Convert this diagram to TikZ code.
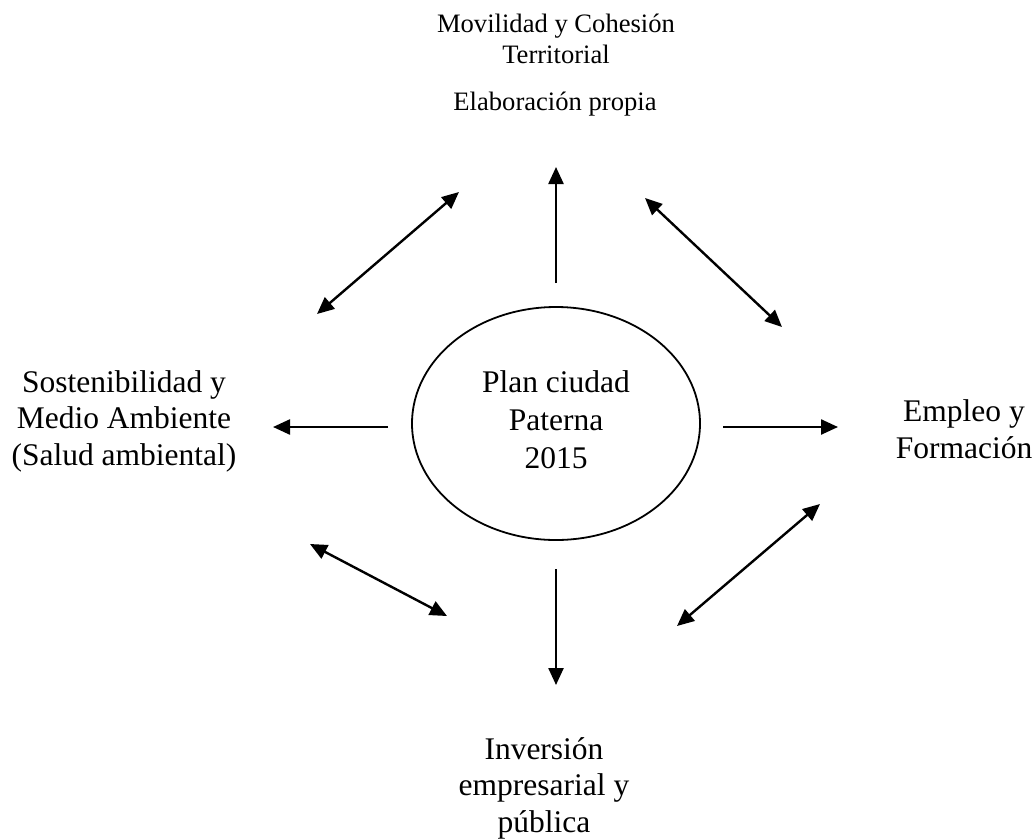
\documentclass[tikz,border=0pt]{standalone}
\usepackage{fontspec}
\setmainfont{Liberation Serif}
\usetikzlibrary{shapes.geometric,arrows.meta}
\begin{document}
\begin{tikzpicture}[x=1pt,y=-1pt,
  big/.style={font=\fontsize{31.5}{36.5}\selectfont, align=center, inner sep=0pt},
  small/.style={font=\fontsize{26.6}{30.5}\selectfont, align=center, inner sep=0pt},
  tip/.tip={Triangle[length=17pt,width=15pt]},
  arr/.style={line width=2.4pt, -tip},
  darr/.style={line width=2.4pt, tip-tip},
]
\useasboundingbox (0,0) rectangle (1036,839);
\node[ellipse, draw, line width=1.8pt, minimum width=288pt, minimum height=233pt, inner sep=0pt] (plan) at (556,423.5) {};
\node[big, anchor=base, font=\fontsize{31.5}{38}\selectfont] (plantext) at (556,468) {Plan ciudad\\Paterna\\2015};
\node[small, anchor=base] (mov) at (556,63) {Movilidad y Cohesión\\Territorial};
\node[small, anchor=base] (elab) at (555,110) {Elaboración propia};
\node[big, anchor=base] (sost) at (124,465) {Sostenibilidad y\\Medio Ambiente\\(Salud ambiental)};
\node[big, anchor=base] (emp) at (964,458) {Empleo y\\Formación};
\node[big, anchor=base] (inv) at (544,832) {Inversión\\empresarial y\\pública};

\coordinate (upA) at (556,283); \coordinate (upB) at (556,167);
\coordinate (lfA) at (388,427); \coordinate (lfB) at (273,427);
\coordinate (rtA) at (723,427); \coordinate (rtB) at (838,427);
\coordinate (dnA) at (556,569); \coordinate (dnB) at (556,685);
\coordinate (ulA) at (317,314); \coordinate (ulB) at (459,192);
\coordinate (urA) at (645,198); \coordinate (urB) at (782,327);
\coordinate (llA) at (310,544); \coordinate (llB) at (447,616);
\coordinate (lrA) at (677,626); \coordinate (lrB) at (820,504);

\draw[arr] (upA) -- (upB);
\draw[arr] (lfA) -- (lfB);
\draw[arr] (rtA) -- (rtB);
\draw[arr] (dnA) -- (dnB);
\draw[darr] (ulA) -- (ulB);
\draw[darr] (urA) -- (urB);
\draw[darr] (llA) -- (llB);
\draw[darr] (lrA) -- (lrB);
\end{tikzpicture}
\end{document}
